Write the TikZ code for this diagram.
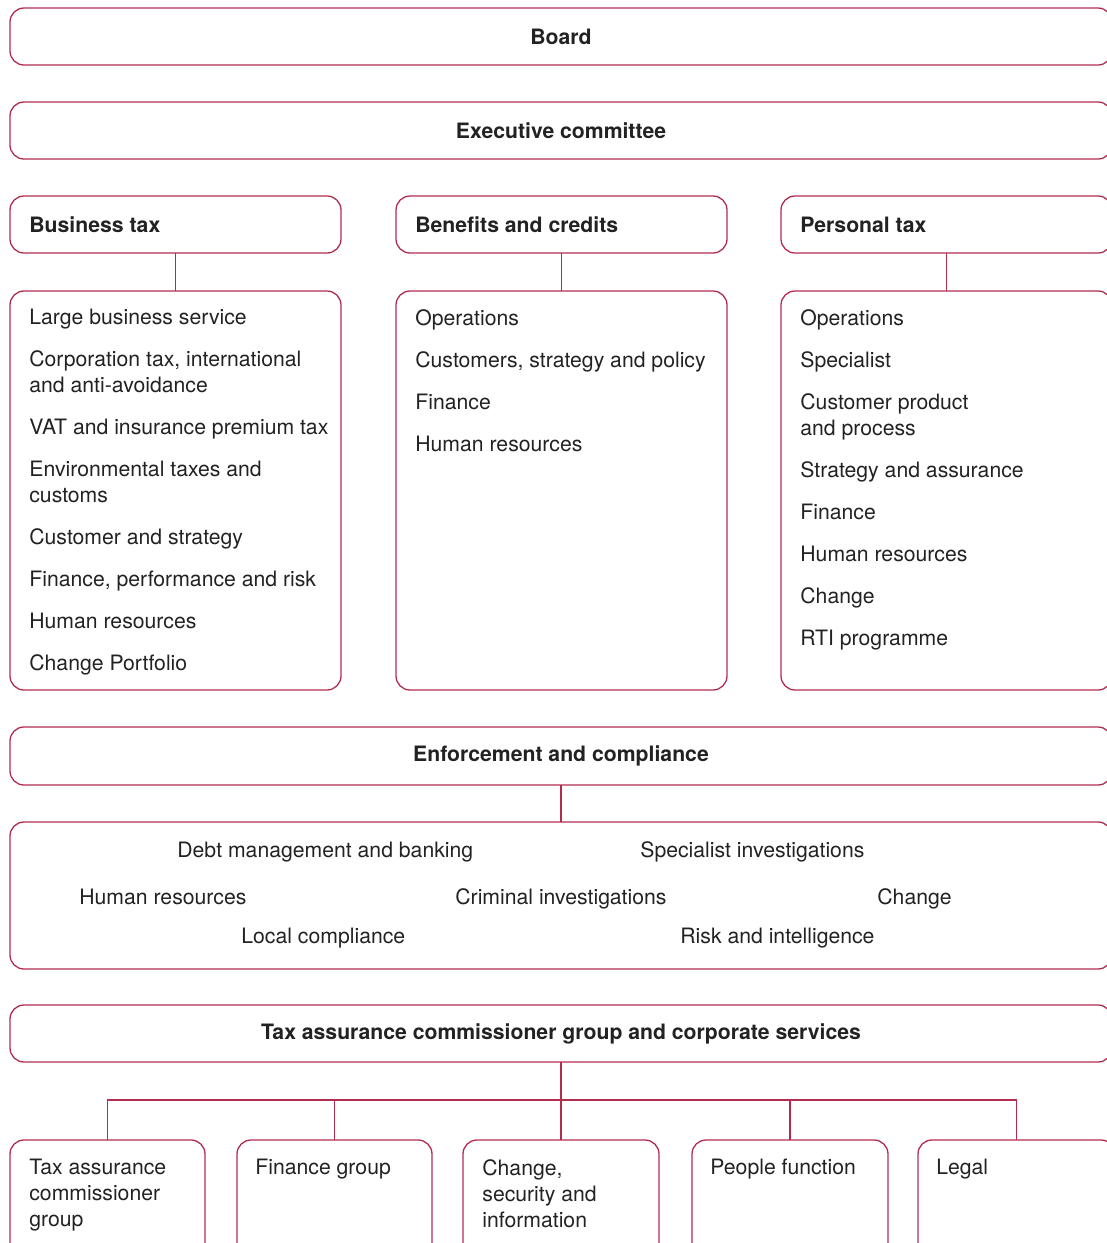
\documentclass[tikz,border=0pt]{standalone}
\usepackage{fontspec}
\setmainfont{TeX Gyre Heros}
\usetikzlibrary{calc}
\definecolor{unitred}{RGB}{178,44,80}
\definecolor{inktext}{RGB}{34,34,34}
\newcommand{\unitbox}[5]{\node[unit, minimum width={#4*0.5pt}, minimum height={#5*0.5pt}] (#1) at ( #2 , #3 ) {};}
\newcommand{\headlabel}[3]{\node[head, anchor=west] (#1) at ( #2 ) {#3};}

\begin{document}
\begin{tikzpicture}[x=0.5pt, y=-0.5pt,
    unit/.style={draw=unitred, line width=0.65pt, rounded corners=7pt, anchor=north west, inner sep=0pt, outer sep=0pt},
    link/.style={draw=unitred, line width=0.65pt},
    head/.style={font=\fontsize{10.6}{13}\selectfont\bfseries, text=inktext, inner sep=0pt},
    items/.style={font=\fontsize{10.6}{13}\selectfont, text=inktext, align=left, anchor=north west, inner sep=0pt},
    item/.style={font=\fontsize{10.6}{13}\selectfont, text=inktext, anchor=base west, inner sep=0pt}]
    \useasboundingbox (0,0) rectangle (1107,1243);
    \clip (0,0) rectangle (1107,1243);
    % top level
    \unitbox{board}{10}{8}{1102}{57}
    \unitbox{exec}{10}{102}{1102}{57}
    \node[head] (boardt) at (board.center) {Board};
    \node[head] (exect) at (exec.center) {Executive committee};
    % three directorates
    \unitbox{bt}{10}{196}{331}{57}
    \unitbox{bc}{396}{196}{331}{57}
    \unitbox{pt}{781}{196}{331}{57}
    \unitbox{btl}{10}{291}{331}{399}
    \unitbox{bcl}{396}{291}{331}{399}
    \unitbox{ptl}{781}{291}{331}{399}
    \headlabel{btt}{29,225}{Business tax}
    \headlabel{bct}{415,225}{Benefits and credits}
    \headlabel{ptt}{800,225}{Personal tax}
    \draw[link] (bt.south) -- (btl.north);
    \draw[link] (bc.south) -- (bcl.north);
    \draw[link] (pt.south) -- (ptl.north);
    % lists
    \node[items] (btx) at (29,309) {Large business service\\[8pt]
        Corporation tax, international\\and anti-avoidance\\[8pt]
        VAT and insurance premium tax\\[8pt]
        Environmental taxes and\\customs\\[8pt]
        Customer and strategy\\[8pt]
        Finance, performance and risk\\[8pt]
        Human resources\\[8pt]
        Change Portfolio};
    \node[items] (bcx) at (415,309) {Operations\\[8pt]
        Customers, strategy and policy\\[8pt]
        Finance\\[8pt]
        Human resources};
    \node[items] (ptx) at (800,309) {Operations\\[8pt]
        Specialist\\[8pt]
        Customer product\\and process\\[8pt]
        Strategy and assurance\\[8pt]
        Finance\\[8pt]
        Human resources\\[8pt]
        Change\\[8pt]
        RTI programme};
    % enforcement and compliance
    \unitbox{enf}{10}{727}{1102}{58}
    \unitbox{enfl}{10}{822}{1102}{147}
    \node[head] (enft) at (enf.center) {Enforcement and compliance};
    \draw[link] (enf.south) -- (enfl.north);
    \node[item] (debt) at (177,857) {Debt management and banking};
    \node[item] (spec) at (640,857) {Specialist investigations};
    \node[item] (ehr) at (79,904) {Human resources};
    \node[item] (crim) at (455,904) {Criminal investigations};
    \node[item] (echg) at (877,904) {Change};
    \node[item] (loc) at (241,943) {Local compliance};
    \node[item] (risk) at (680,943) {Risk and intelligence};
    % tax assurance commissioner group
    \unitbox{tac}{10}{1005}{1102}{57}
    \node[head] (tact) at (tac.center) {Tax assurance commissioner group and corporate services};
    \unitbox{ga}{10}{1140}{195}{130}
    \unitbox{gb}{237}{1140}{195}{130}
    \unitbox{gc}{463}{1140}{196}{130}
    \unitbox{gd}{692}{1140}{196}{130}
    \unitbox{ge}{918}{1140}{197}{130}
    \coordinate (bus) at (561,1100);
    \draw[link] (tac.south) -- (bus);
    \draw[link] (ga.north) |- (bus) -| (ge.north);
    \draw[link] (gb.north) -- (gb.north |- bus);
    \draw[link] (gc.north) -- (gc.north |- bus);
    \draw[link] (gd.north) -- (gd.north |- bus);
    \node[items] (gat) at (29,1159) {Tax assurance\\commissioner\\group};
    \node[items] (gbt) at (255,1159) {Finance group};
    \node[items] (gct) at (482,1159) {Change,\\security and\\information};
    \node[items] (gdt) at (710,1159) {People function};
    \node[items] (get) at (936,1159) {Legal};
\end{tikzpicture}
\end{document}
